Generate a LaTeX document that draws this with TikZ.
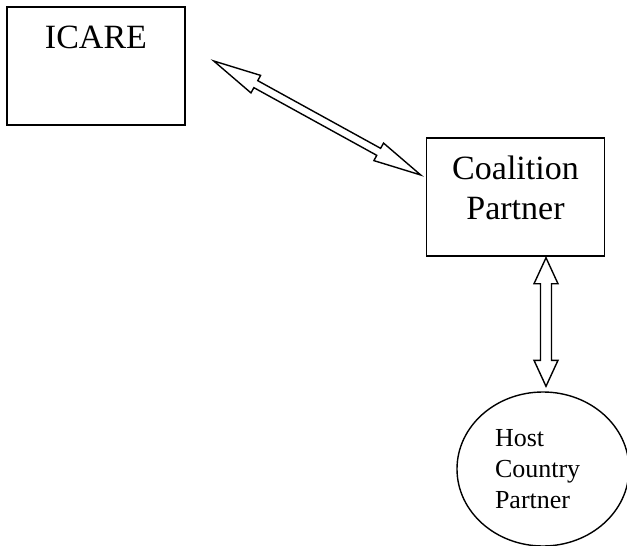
\documentclass[tikz,border=0pt]{standalone}
\usepackage{fontspec}
\setmainfont{Liberation Serif}
\usetikzlibrary{calc,shapes.geometric}
\newcommand{\hollowarrow}[5]{%
  \draw[arrowline] (#1)
    -- ($(#1)!#5!(#2)!#4!90:(#2)$) -- ($(#1)!#5!(#2)!#3!90:(#2)$)
    -- ($(#2)!#5!(#1)!#3!-90:(#1)$) -- ($(#2)!#5!(#1)!#4!-90:(#1)$)
    -- (#2)
    -- ($(#2)!#5!(#1)!#4!90:(#1)$) -- ($(#2)!#5!(#1)!#3!90:(#1)$)
    -- ($(#1)!#5!(#2)!#3!-90:(#2)$) -- ($(#1)!#5!(#2)!#4!-90:(#2)$)
    -- cycle;}
\begin{document}
\begin{tikzpicture}[x=1pt,y=-1pt,
  box/.style={rectangle,draw,line width=1.5pt,minimum width=178pt,minimum height=118pt,
    inner sep=0pt,font=\fontsize{34}{40}\selectfont},
  arrowline/.style={draw,line width=1.4pt,fill=white}]
\useasboundingbox (0,0) rectangle (627,546);
\node [box,text height=23pt,text depth=59pt] (icare) at (96,66) {ICARE};
\node [box,align=center,text height=63pt,text depth=19pt] (coal) at (515.5,197) {Coalition\\Partner};
\node [ellipse,draw,line width=1.4pt,minimum width=172pt,minimum height=154pt,inner sep=0pt,
  text width=96pt,align=left,font=\fontsize{26}{31}\selectfont] (host) at (543,469) {Host\\Country\\Partner};
\coordinate (a) at ($(icare.east)+(28,-5)$);
\coordinate (b) at ($(coal.west)+(-5,-22)$);
\coordinate (c) at ($(coal.south)+(30.5,1)$);
\coordinate (d) at ($(host.north)+(3,-5)$);
\hollowarrow{a}{b}{4pt}{10pt}{48pt}
\hollowarrow{c}{d}{5.5pt}{12pt}{26pt}
\end{tikzpicture}
\end{document}
